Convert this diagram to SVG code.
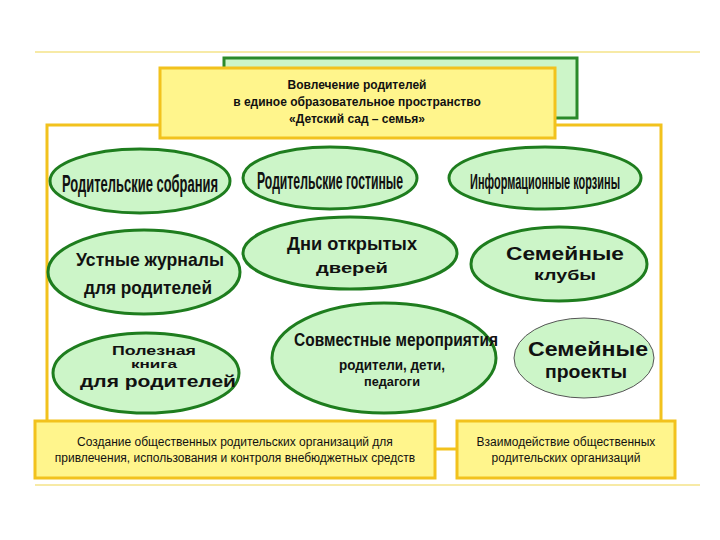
<svg xmlns="http://www.w3.org/2000/svg" width="720" height="540" viewBox="0 0 720 540">
<style>
.el{fill:#ccf5c8;stroke:#1e7d1e;stroke-width:3}
.w{font-family:"Liberation Sans",Arial,sans-serif;font-weight:bold;fill:#111;text-anchor:middle}
.t{font-family:"Liberation Sans",Arial,sans-serif;font-size:12px;fill:#111;text-anchor:middle}
.yb{fill:#fff58c;stroke:#f2c21d;stroke-width:3}
</style>
<rect width="720" height="540" fill="#fff"/>
<line x1="35" y1="52" x2="700" y2="52" stroke="#f7eaa6" stroke-width="2"/>
<line x1="35" y1="485" x2="700" y2="485" stroke="#f7eaa6" stroke-width="2"/>
<g id="connectors" fill="none" stroke="#f2c21d" stroke-width="3">
<polyline points="47,422 47,125 160,125"/>
<polyline points="555,125 661,125 661,422"/>
<line x1="435" y1="449" x2="457" y2="449"/>
</g>
<g id="back"><rect x="224" y="58" width="353" height="60" fill="#ccf5c8" stroke="#2a8a2a" stroke-width="3"/></g>
<g id="title"><rect class="yb" x="160" y="68" width="395" height="70"/>
<text class="t" font-weight="bold" font-size="15" x="357" y="89">Вовлечение родителей</text>
<text class="t" font-weight="bold" font-size="15" x="357" y="106">в единое образовательное пространство</text>
<text class="t" font-weight="bold" font-size="15" x="357" y="123">«Детский сад – семья»</text></g>
<g id="n1"><ellipse class="el" cx="140" cy="181" rx="90" ry="32"/><text class="w" transform="translate(140,192) scale(1,1.9)" font-size="13" textLength="156" lengthAdjust="spacingAndGlyphs">Родительские собрания</text></g>
<g id="n2"><ellipse class="el" cx="330" cy="178" rx="87" ry="31"/><text class="w" transform="translate(330,189) scale(1,1.9)" font-size="13" textLength="146" lengthAdjust="spacingAndGlyphs">Родительские гостиные</text></g>
<g id="n3"><ellipse class="el" cx="545" cy="178" rx="96" ry="31"/><text class="w" transform="translate(545,189) scale(1,1.9)" font-size="12" textLength="150" lengthAdjust="spacingAndGlyphs">Информационные корзины</text></g>
<g id="n4"><ellipse class="el" cx="144" cy="272" rx="96" ry="42"/><text class="w" x="150" y="266" font-size="19" textLength="148" lengthAdjust="spacingAndGlyphs">Устные журналы</text><text class="w" x="148" y="294" font-size="19" textLength="128" lengthAdjust="spacingAndGlyphs">для родителей</text></g>
<g id="n5"><ellipse class="el" cx="350" cy="253" rx="107" ry="36"/><text class="w" x="352" y="250" font-size="19" textLength="130" lengthAdjust="spacingAndGlyphs">Дни открытых</text><text class="w" x="352" y="273" font-size="15" textLength="72" lengthAdjust="spacingAndGlyphs">дверей</text></g>
<g id="n6"><ellipse class="el" cx="559" cy="264" rx="88" ry="37"/><text class="w" x="565" y="260" font-size="18" textLength="118" lengthAdjust="spacingAndGlyphs">Семейные</text><text class="w" x="565" y="280" font-size="14" textLength="62" lengthAdjust="spacingAndGlyphs">клубы</text></g>
<g id="n7"><ellipse class="el" cx="146" cy="373" rx="93" ry="40"/><text class="w" x="154" y="355" font-size="12" textLength="84" lengthAdjust="spacingAndGlyphs">Полезная</text><text class="w" x="154" y="368" font-size="11" textLength="46" lengthAdjust="spacingAndGlyphs">книга</text><text class="w" x="158" y="387" font-size="17" textLength="156" lengthAdjust="spacingAndGlyphs">для родителей</text></g>
<g id="n8"><ellipse class="el" cx="384" cy="358" rx="112" ry="55" stroke-width="2"/><text class="w" x="396" y="346" font-size="18" textLength="204" lengthAdjust="spacingAndGlyphs">Совместные мероприятия</text><text class="w" x="392" y="370" font-size="15" textLength="106" lengthAdjust="spacingAndGlyphs">родители, дети,</text><text class="w" x="392" y="386" font-size="13" textLength="56" lengthAdjust="spacingAndGlyphs">педагоги</text></g>
<g id="n9"><ellipse cx="584" cy="358" rx="70" ry="40" fill="#ccf5c8" stroke="#555" stroke-width="1"/><text class="w" x="588" y="356" font-size="20" textLength="120" lengthAdjust="spacingAndGlyphs">Семейные</text><text class="w" x="586" y="378" font-size="18" textLength="82" lengthAdjust="spacingAndGlyphs">проекты</text></g>
<g id="b1"><rect class="yb" x="35" y="421" width="400" height="57"/><text class="t" x="235" y="446">Создание общественных родительских организаций для</text><text class="t" x="235" y="462">привлечения, использования и контроля внебюджетных средств</text></g>
<g id="b2"><rect class="yb" x="457" y="421" width="218" height="57"/><text class="t" x="566" y="446">Взаимодействие общественных</text><text class="t" x="566" y="462">родительских организаций</text></g>
</svg>
